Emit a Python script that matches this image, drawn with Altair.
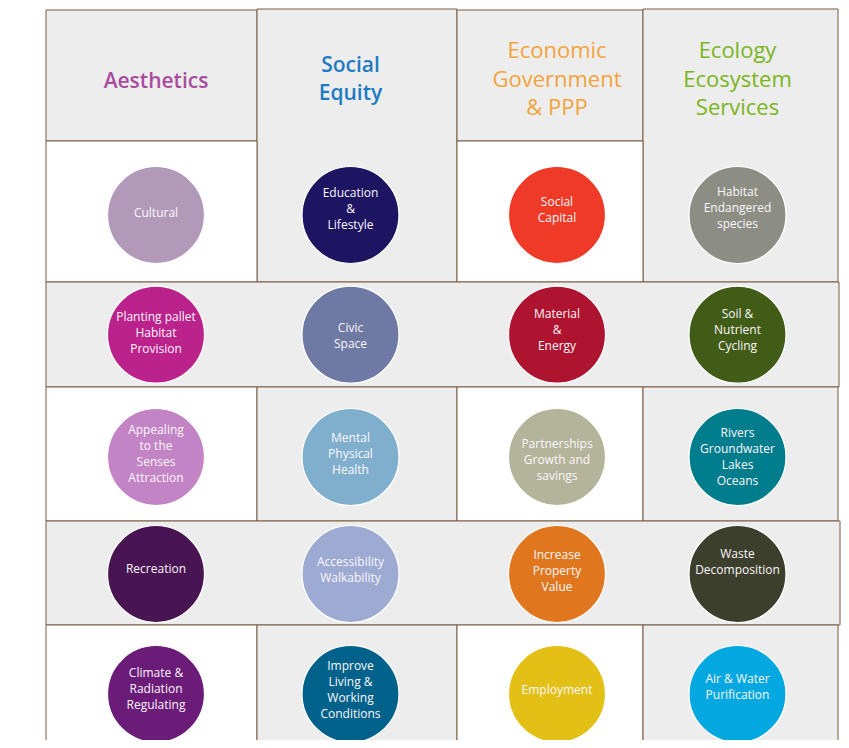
import altair as alt
import pandas as pd

# ---------------- data ----------------
headers = ["Aesthetics", "Social\nEquity", "Economic\nGovernment\n& PPP", "Ecology\nEcosystem\nServices"]
header_colors = ["#A94C9E", "#1F7BC1", "#F2A33A", "#7AB51D"]
header_bold = [True, True, False, False]

labels = [
    ["Cultural", "Education\n&\nLifestyle", "Social\nCapital", "Habitat\nEndangered\nspecies"],
    ["Planting pallet\nHabitat\nProvision", "Civic\nSpace", "Material\n&\nEnergy", "Soil &\nNutrient\nCycling"],
    ["Appealing\nto the\nSenses\nAttraction", "Mental\nPhysical\nHealth", "Partnerships\nGrowth and\nsavings", "Rivers\nGroundwater\nLakes\nOceans"],
    ["Recreation", "Accessibility\nWalkability", "Increase\nProperty\nValue", "Waste\nDecomposition"],
    ["Climate &\nRadiation\nRegulating", "Improve\nLiving &\nWorking\nConditions", "Employment", "Air & Water\nPurification"],
]
circle_colors = [
    ["#B399B9", "#1D1562", "#EE3A26", "#8C8E84"],
    ["#BC228B", "#6E7AA4", "#AE1330", "#415C17"],
    ["#C384C6", "#80AFCE", "#B4B49B", "#007D8C"],
    ["#481552", "#9DABD3", "#E0771E", "#3C3F2C"],
    ["#6B1C78", "#00628A", "#E2C016", "#04A8E1"],
]

# ---------------- layout (page pixel coordinates) ----------------
col_edges = [46, 257, 457, 643, 838]
col_cx = [156, 350.5, 557, 737.5]
row_cy = [215, 334.7, 457, 574, 694]
label_dy = [
    [-2, -6, -5, -7],
    [-2, 1, -4.5, -5],
    [-3, -3.5, 2.5, 0],
    [-5, -4.5, -3, -12],
    [-5, -4, -4.5, -7],
]
LABEL_LH = 16
header_first_y = [82, 65.5, 51, 51]

GREY = "#EDEDED"
WHITE = "#FFFFFF"
LINE = "#7A5A42"

cells = []
# header row (columns 2 and 4 merge with first body row)
cells.append(dict(x=col_edges[0], x2=col_edges[1], y=10, y2=141, fill=GREY))
cells.append(dict(x=col_edges[1], x2=col_edges[2], y=9, y2=282, fill=GREY))
cells.append(dict(x=col_edges[2], x2=col_edges[3], y=10, y2=141, fill=GREY))
cells.append(dict(x=col_edges[3], x2=col_edges[4], y=9, y2=282, fill=GREY))
# row 1 white cells
cells.append(dict(x=col_edges[0], x2=col_edges[1], y=141, y2=282, fill=WHITE))
cells.append(dict(x=col_edges[2], x2=col_edges[3], y=141, y2=282, fill=WHITE))
# row 2 band
cells.append(dict(x=col_edges[0], x2=839, y=282, y2=387, fill=GREY))
# row 3
for i in range(4):
    cells.append(dict(x=col_edges[i], x2=col_edges[i + 1], y=387, y2=521,
                      fill=WHITE if i % 2 == 0 else GREY))
# row 4 band
cells.append(dict(x=col_edges[0], x2=840, y=521, y2=625, fill=GREY))
# row 5
for i in range(4):
    cells.append(dict(x=col_edges[i], x2=col_edges[i + 1], y=625, y2=760,
                      fill=WHITE if i % 2 == 0 else GREY))
rect_df = pd.DataFrame(cells)

circ_rows = []
for r in range(5):
    for c in range(4):
        n_lines = labels[r][c].count("\n") + 1
        ty = row_cy[r] + label_dy[r][c] - (n_lines - 1) * LABEL_LH / 2
        circ_rows.append(dict(cx=col_cx[c], cy=row_cy[r], ty=ty,
                              label=labels[r][c], color=circle_colors[r][c]))
circ_df = pd.DataFrame(circ_rows)

hdr_df = pd.DataFrame(dict(cx=col_cx, cy=header_first_y, label=headers,
                           color=header_colors, bold=header_bold))

xs = alt.Scale(domain=[8, 841], nice=False, zero=False)
ys = alt.Scale(domain=[8, 740], nice=False, zero=False, reverse=True)

rects = alt.Chart(rect_df).mark_rect(stroke=LINE, strokeWidth=1, clip=True).encode(
    x=alt.X("x:Q", scale=xs, axis=None), x2="x2:Q",
    y=alt.Y("y:Q", scale=ys, axis=None), y2="y2:Q",
    fill=alt.Fill("fill:N", scale=None),
)

circles = alt.Chart(circ_df).mark_circle(size=9400, opacity=1, stroke="white", strokeWidth=1.2).encode(
    x=alt.X("cx:Q", scale=xs, axis=None),
    y=alt.Y("cy:Q", scale=ys, axis=None),
    fill=alt.Fill("color:N", scale=None),
)

circle_text = alt.Chart(circ_df).mark_text(
    font="Open Sans", fontSize=12, lineHeight=LABEL_LH, color="#FBF6FA",
    lineBreak="\n", align="center", baseline="middle",
).encode(
    x=alt.X("cx:Q", scale=xs, axis=None),
    y=alt.Y("ty:Q", scale=ys, axis=None),
    text="label:N",
)

hdr_bold = alt.Chart(hdr_df).transform_filter("datum.bold").mark_text(
    font="Open Sans", fontSize=21, fontWeight=600, lineHeight=28.5,
    lineBreak="\n", align="center", baseline="middle",
).encode(
    x=alt.X("cx:Q", scale=xs, axis=None),
    y=alt.Y("cy:Q", scale=ys, axis=None),
    text="label:N",
    color=alt.Color("color:N", scale=None),
)

hdr_reg = alt.Chart(hdr_df).transform_filter("!datum.bold").mark_text(
    font="Open Sans", fontSize=22, fontWeight="normal", lineHeight=28.5,
    lineBreak="\n", align="center", baseline="middle",
).encode(
    x=alt.X("cx:Q", scale=xs, axis=None),
    y=alt.Y("cy:Q", scale=ys, axis=None),
    text="label:N",
    color=alt.Color("color:N", scale=None),
)

chart = alt.layer(rects, circles, circle_text, hdr_bold, hdr_reg).properties(
    width=833, height=732,
    autosize=alt.AutoSizeParams(type="none"),
    padding=0,
    background="white",
).configure_view(stroke=None)

chart.save("out.html", embed_options={"renderer": "svg", "actions": False})
